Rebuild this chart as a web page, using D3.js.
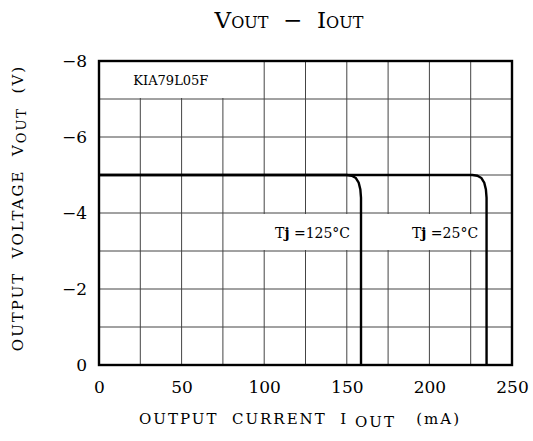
<!DOCTYPE html>
<html>
<head>
<meta charset="utf-8">
<script src="https://cdn.jsdelivr.net/npm/d3@7"></script>
<style>
  body { margin: 0; background: #fff; }
  text { font-family: "DejaVu Serif", "Liberation Serif", serif; fill: #000; }
</style>
</head>
<body>
<div id="chart"></div>
<script>
/* axis ticks */
var ioutTicks = [0, 50, 100, 150, 200, 250]
var voutTicks = [0, -2, -4, -6, -8]
var ioutGrid = [25, 50, 75, 100, 125, 150, 175, 200, 225]
var voutGrid = [-1, -2, -3, -4, -5, -6, -7]

/* curves */
var iout125 = [0, 150, 153, 155.5, 157.2, 158.2, 158.6, 158.6]
var vout125 = [-5, -5, -4.98, -4.92, -4.8, -4.62, -4.4, 0]
var iout25 = [0, 226, 229, 231.5, 233.2, 234.2, 234.6, 234.6]
var vout25 = [-5, -5, -4.98, -4.92, -4.8, -4.62, -4.4, 0]

var width = 533, height = 441
var plot = { left: 99, right: 512, top: 61, bottom: 365 }

var x = d3.scaleLinear().domain([0, 250]).range([plot.left, plot.right])
var y = d3.scaleLinear().domain([0, -8]).range([plot.bottom, plot.top])

var svg = d3.select("#chart").append("svg")
    .attr("width", width)
    .attr("height", height)

/* grid */
var grid = svg.append("g").attr("class", "grid")
grid.selectAll(".vline")
    .data(ioutGrid)
    .enter().append("line")
    .attr("x1", function(d) { return x(d) })
    .attr("x2", function(d) { return x(d) })
    .attr("y1", y(0))
    .attr("y2", y(-8))
    .attr("stroke", "#444")
    .attr("stroke-width", 1)
grid.selectAll(".hline")
    .data(voutGrid)
    .enter().append("line")
    .attr("x1", x(0))
    .attr("x2", x(250))
    .attr("y1", function(d) { return y(d) })
    .attr("y2", function(d) { return y(d) })
    .attr("stroke", "#444")
    .attr("stroke-width", 1)

/* white boxes behind labels */
var boxes = [
  { x0: 0, x1: 99, y0: -8, y1: -7 },
  { x0: 97, x1: 157, y0: -4, y1: -3 },
  { x0: 172, x1: 233, y0: -4, y1: -3 }
]
svg.selectAll(".box")
    .data(boxes)
    .enter().append("rect")
    .attr("x", function(d) { return x(d.x0) + 1 })
    .attr("y", function(d) { return y(d.y0) + 1 })
    .attr("width", function(d) { return x(d.x1) - x(d.x0) - 1 })
    .attr("height", function(d) { return y(d.y1) - y(d.y0) - 2 })
    .attr("fill", "#fff")

/* curves */
var line = d3.line()
    .x(function(d) { return x(d[0]) })
    .y(function(d) { return y(d[1]) })
    .curve(d3.curveLinear)

var curves = [d3.zip(iout125, vout125), d3.zip(iout25, vout25)]
svg.selectAll(".curve")
    .data(curves)
    .enter().append("path")
    .attr("d", line)
    .attr("fill", "none")
    .attr("stroke", "#000")
    .attr("stroke-width", 2.4)

/* frame */
svg.append("rect")
    .attr("x", x(0))
    .attr("y", y(-8))
    .attr("width", x(250) - x(0))
    .attr("height", y(0) - y(-8))
    .attr("fill", "none")
    .attr("stroke", "#000")
    .attr("stroke-width", 2.4)

/* axes */
var yAxis = svg.append("g")
    .attr("transform", "translate(" + plot.left + ",0)")
    .call(d3.axisLeft(y).tickValues(voutTicks).tickSize(0).tickPadding(12))
yAxis.select(".domain").remove()
yAxis.selectAll("text")
    .style("font-family", "DejaVu Serif")
    .style("font-size", "17px")

var xAxis = svg.append("g")
    .attr("transform", "translate(0," + plot.bottom + ")")
    .call(d3.axisBottom(x).tickValues(ioutTicks).tickSize(0).tickPadding(16))
xAxis.select(".domain").remove()
xAxis.selectAll("text")
    .style("font-family", "DejaVu Serif")
    .style("font-size", "17px")

/* title */
var title = svg.append("text")
    .attr("x", 289)
    .attr("y", 28)
    .attr("text-anchor", "middle")
    .attr("xml:space", "preserve")
    .style("font-size", "23px")
title.append("tspan").text("V")
title.append("tspan").style("font-size", "16px").text("OUT")
title.append("tspan").text("  \u2212  ")
title.append("tspan").text("I")
title.append("tspan").style("font-size", "16px").text("OUT")

/* x axis title */
var xt = svg.append("text")
    .attr("x", 300)
    .attr("y", 424)
    .attr("text-anchor", "middle")
    .attr("xml:space", "preserve")
    .style("font-size", "15px")
    .style("letter-spacing", "2px")
xt.append("tspan").text("OUTPUT  CURRENT  I ")
xt.append("tspan").attr("dy", 3).style("font-size", "15px").text("OUT")
xt.append("tspan").attr("dy", -3).text("   (mA)")

/* y axis title */
var yt = svg.append("text")
    .attr("transform", "translate(23,208) rotate(-90)")
    .attr("text-anchor", "middle")
    .attr("xml:space", "preserve")
    .style("font-size", "15px")
    .style("letter-spacing", "2px")
yt.append("tspan").text("OUTPUT  VOLTAGE  V")
yt.append("tspan").attr("dy", 3).style("font-size", "13px").text("OUT")
yt.append("tspan").attr("dy", -3).text("  (V)")

/* labels inside the plot */
svg.append("text")
    .attr("x", x(43.5))
    .attr("y", (y(-8) + y(-7)) / 2 + 5)
    .attr("text-anchor", "middle")
    .style("font-size", "13px")
    .text("KIA79L05F")

var tjLabels = [
  { x: 152, t: "125" },
  { x: 229.5, t: "25" }
]
var tj = svg.selectAll(".tj")
    .data(tjLabels)
    .enter().append("text")
    .attr("x", function(d) { return x(d.x) })
    .attr("y", (y(-4) + y(-3)) / 2 + 6)
    .attr("text-anchor", "end")
    .attr("xml:space", "preserve")
    .style("font-size", "14px")
tj.append("tspan").text("T")
tj.append("tspan").style("font-weight", "bold").text("j")
tj.append("tspan").text(function(d) { return " =" + d.t + "\u00b0C" })
</script>
</body>
</html>
